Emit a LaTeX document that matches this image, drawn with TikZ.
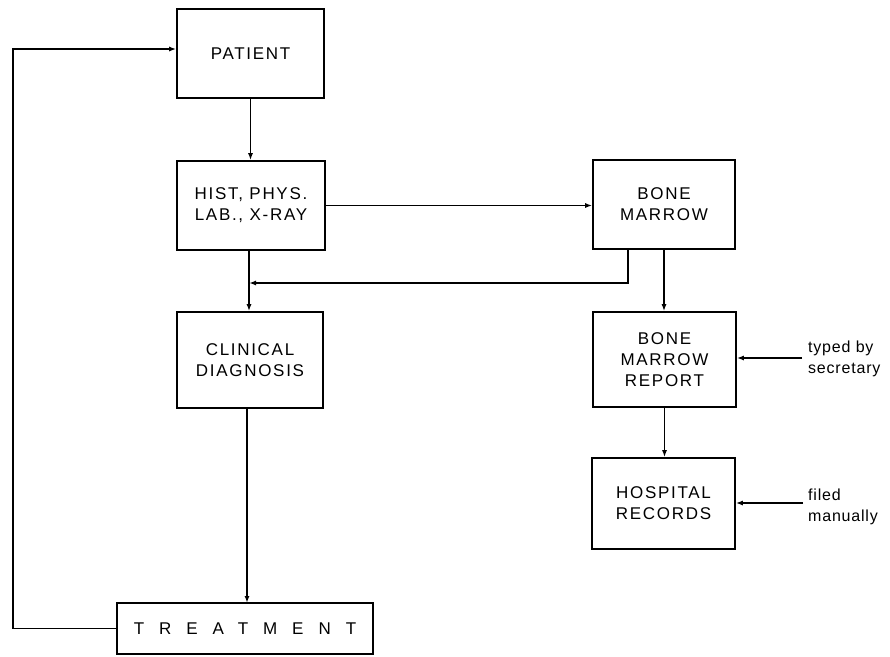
\documentclass[tikz,border=0pt]{standalone}
\usepackage{fontspec}
\setmainfont{Liberation Sans}
\newfontfamily\boxfont[LetterSpace=10]{Liberation Sans}
\newfontfamily\widefont[LetterSpace=88]{Liberation Sans}
\newfontfamily\notefont[LetterSpace=5]{Liberation Sans}
\usetikzlibrary{arrows.meta}
\begin{document}
\begin{tikzpicture}[x=1pt,y=-1pt,
  box/.style={draw,line width=1.6pt,rectangle,inner sep=0pt,align=center,
    font=\boxfont\fontsize{17}{21}\selectfont},
  arr/.style={line width=1.5pt,-{Latex[length=7pt,width=5pt]}},
  note/.style={anchor=west,align=left,inner sep=0pt,font=\notefont\fontsize{16}{21}\selectfont}]
\useasboundingbox (0,0) rectangle (890,656);
\node[box,minimum width=147pt,minimum height=89pt] (pat) at (250.5,53.5) {PATIENT};
\node[box,minimum width=148pt,minimum height=89pt] (hist) at (251,205.5) {HIST, PHYS.\\LAB., X-RAY};
\node[box,minimum width=146pt,minimum height=96pt] (clin) at (250,360) {CLINICAL\\DIAGNOSIS};
\node[box,minimum width=256pt,minimum height=51pt,font=\widefont\fontsize{17}{21}\selectfont] (treat) at (245,628.5) {TREATMENT};
\node[box,minimum width=142pt,minimum height=89pt] (bm) at (664,204.5) {BONE\\MARROW};
\node[box,minimum width=143pt,minimum height=95pt] (bmr) at (664.5,359.5) {BONE\\MARROW\\REPORT};
\node[box,minimum width=143pt,minimum height=91pt] (hosp) at (663.5,503.5) {HOSPITAL\\RECORDS};
\node[note] (typed) at (808,359) {typed by\\secretary};
\node[note] (filed) at (808,507) {filed\\manually};
\coordinate (tb) at (802,358);
\coordinate (fm) at (803,503);
\coordinate (j) at (249,283);
\coordinate (bmo) at (628,249);
\coordinate (loopb) at (13,628.5);
\coordinate (loopt) at (13,49);
% connectors
\draw[arr] (pat.south) -- (pat.south |- hist.north);
\draw[arr] (hist.east) -- (hist.east -| bm.west);
\draw[arr] (hist.south -| j) -- (j |- clin.north);
\draw[arr] (bmo) |- (j);
\draw[arr] (bm.south) -- (bm.south |- bmr.north);
\draw[arr] (bmr.south) -- (bmr.south |- hosp.north);
\draw[arr] (clin.south -| 247,0) -- (247,603);
\draw[arr] (treat.west) -- (loopb) -- (loopt) -- (loopt -| pat.west);
\draw[arr] (tb) -- (tb -| bmr.east);
\draw[arr] (fm) -- (fm -| hosp.east);
\end{tikzpicture}
\end{document}
